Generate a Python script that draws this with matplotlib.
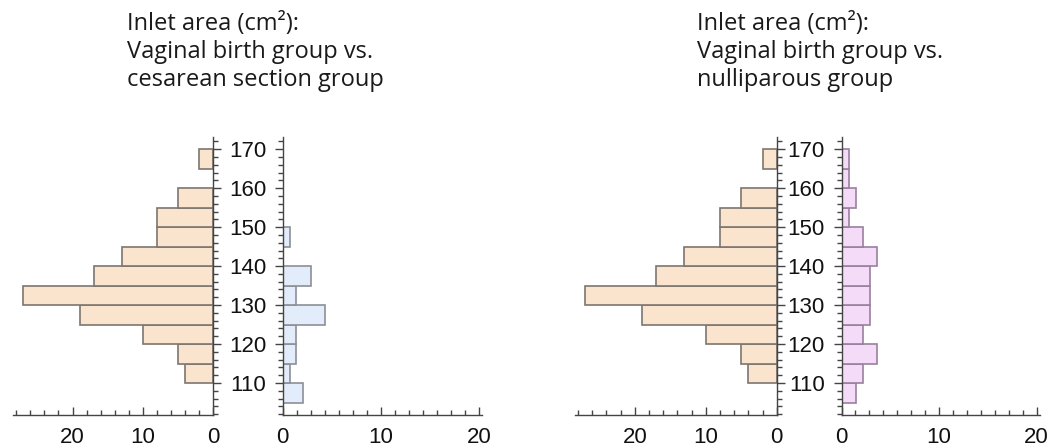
import matplotlib
matplotlib.use("Agg")
import matplotlib.pyplot as plt
import numpy as np
from matplotlib.ticker import MultipleLocator, FixedLocator

# inlet area bins (cm^2), lower edges, width 5
bin_lows = [105, 110, 115, 120, 125, 130, 135, 140, 145, 150, 155, 160, 165]
bin_width = 5

vaginal = [0, 4, 5, 10, 19, 27, 17, 13, 8, 8, 5, 0, 2]
cesarean = [2.1, 0.7, 1.4, 1.4, 4.3, 1.4, 2.9, 0, 0.7, 0, 0, 0, 0]
nulliparous = [1.46, 2.2, 3.63, 2.2, 2.9, 2.9, 2.9, 3.63, 2.2, 0.73, 1.46, 0.73, 0.73]

titles = ["Inlet area (cm²):\nVaginal birth group vs.\ncesarean section group",
          "Inlet area (cm²):\nVaginal birth group vs.\nnulliparous group"]

peach = "#fbe4cd"
blue = "#e2ecfa"
pink = "#f4dbf8"
axis_col = "#444444"

W, H = 1050, 448
fig = plt.figure(figsize=(W / 100, H / 100), dpi=100)

YTOP, YBOT = 136.7, 415
YLIM = (101.8, 173.2)


def rect(x0, x1):
    return [x0 / W, 1 - YBOT / H, (x1 - x0) / W, (YBOT - YTOP) / H]


def bars(ax, vals, color, edge):
    lows = [b for b, v in zip(bin_lows, vals) if v > 0]
    vs = [v for v in vals if v > 0]
    ax.barh(lows, vs, height=bin_width, align="edge", left=0,
            color=color, edgecolor=edge, linewidth=1.2, zorder=2)


def style(ax, side):
    for s in ax.spines.values():
        s.set_color(axis_col)
        s.set_linewidth(1.0)
    ax.spines["top"].set_visible(False)
    ax.set_ylim(*YLIM)
    ax.yaxis.set_major_locator(MultipleLocator(10))
    ax.yaxis.set_minor_locator(MultipleLocator(2))
    ax.tick_params(axis="y", which="major", direction="out", length=6, width=1,
                   color=axis_col, labelsize=16, pad=6)
    ax.tick_params(axis="y", which="minor", direction="out", length=3.5, width=1,
                   color=axis_col)
    ax.tick_params(axis="x", which="major", direction="in", length=6, width=1,
                   color=axis_col, labelsize=16, pad=8.5)
    ax.tick_params(axis="x", which="minor", direction="in", length=3.5, width=1,
                   color=axis_col)
    if side == "left":
        ax.spines["left"].set_visible(False)
        ax.yaxis.tick_right()
        ax.tick_params(axis="y", which="both", labelright=False, labelleft=False)
    else:
        ax.spines["right"].set_visible(False)
        ax.yaxis.tick_left()
    for lab in ax.get_xticklabels() + ax.get_yticklabels():
        lab.set_fontfamily("Liberation Sans")
        lab.set_color("#111111")


panels = [
    (12.7, 213.3, 282.7, 482.0, cesarean, blue, "#8c8f96", 127),
    (574.5, 776.7, 841.5, 1039.5, nulliparous, pink, "#9a7fa0", 697),
]

for i, (l0, l1, r0, r1, other, col, edge, tx) in enumerate(panels):
    axl = fig.add_axes(rect(l0, l1))
    bars(axl, vaginal, peach, "#7d7670")
    axl.set_xlim(28.5, 0)
    axl.xaxis.set_major_locator(MultipleLocator(10))
    axl.xaxis.set_minor_locator(MultipleLocator(2))
    style(axl, "left")

    axr = fig.add_axes(rect(r0, r1))
    bars(axr, other, col, edge)
    axr.set_xlim(0, 20.3)
    axr.xaxis.set_major_locator(FixedLocator([0, 10, 20]))
    axr.xaxis.set_minor_locator(MultipleLocator(10 / 7))
    style(axr, "right")

    fig.text(tx / W, 1 - 12 / H, titles[i], ha="left", va="top",
             fontsize=17, family="Open Sans", color="#1a1a1a",
             linespacing=1.22)

fig.savefig("out.png", dpi=100)
